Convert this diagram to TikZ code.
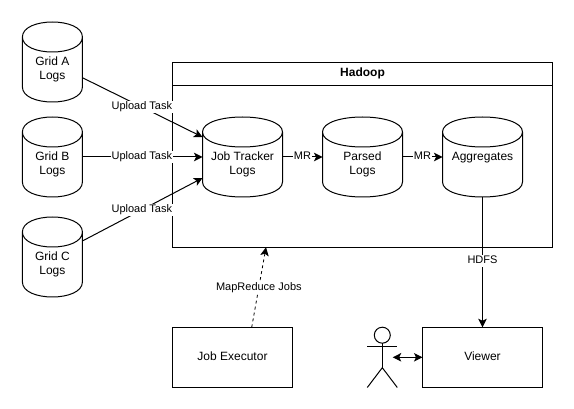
\documentclass[tikz,border=0pt]{standalone}
\usepackage{fontspec}
\setmainfont{Liberation Sans}
\usetikzlibrary{arrows.meta}
\tikzset{
  logdb/.style={rectangle,outer sep=0pt,inner sep=0pt,minimum width=#1pt,minimum height=80pt,
    append after command={
      (\tikzlastnode.north west) ++(0,15) .. controls +(0,-20) and +(0,-20) .. +(#1,0)
        -- ++(#1,50) .. controls +(0,20) and +(0,20) .. ++(-#1,0) -- cycle
      (\tikzlastnode.north west) ++(0,15) .. controls +(0,20) and +(0,20) .. +(#1,0)}},
  dbtext/.style={anchor=north,yshift=5.3pt,inner sep=0pt,align=center,font=\fontsize{12}{14}\selectfont},
  box/.style={draw,rectangle,outer sep=0pt,inner sep=0pt,minimum width=120pt,minimum height=60pt,
    text height=8.6pt,text depth=2.6pt,font=\fontsize{12}{14}\selectfont},
  tag/.style={fill=white,inner sep=1pt,text height=8pt,text depth=2.4pt,font=\fontsize{11}{13}\selectfont},
}
\begin{document}
\begin{tikzpicture}[x=1pt,y=-1pt,line width=1pt,>={Stealth[length=8.5pt,width=8.5pt,inset=2pt]}]
\useasboundingbox (0,0) rectangle (574,409);
% --- the cluster ---
\node[box,minimum width=380pt,minimum height=184.8pt] (hadoop) at (362.5,154.9) {};
\node[box,minimum width=380pt,minimum height=23pt,font=\fontsize{12}{14}\selectfont\bfseries] (hadooptitle) at (362.5,73.8) {Hadoop};
% --- the stores ---
\foreach \n/\y in {gridA/62,gridB/157,gridC/257}
  \draw node[logdb=60] (\n) at (52.4,\y) {};
\foreach \n/\x in {jobtracker/242.5,parsed/362.5,aggregates/482.5}
  \draw node[logdb=80] (\n) at (\x,157) {};
\foreach \n/\t in {gridA/Grid A\\Logs,gridB/Grid B\\Logs,gridC/Grid C\\Logs,
                   jobtracker/Job Tracker\\Logs,parsed/Parsed\\Logs,aggregates/Aggregates}
  \node[dbtext] (\n text) at (\n.center) {\t};
% --- the boxes below ---
\node[box] (executor) at (232.5,357.3) {Job Executor};
\node[box] (viewer) at (482.5,357.3) {Viewer};
% --- free ends ---
\coordinate (outA) at (82.4,77.7);
\coordinate (outC) at (82.4,241);
\coordinate (inA) at (202.5,137);
\coordinate (inC) at (202.5,178);
\coordinate (execout) at (251.7,327.3);
\coordinate (execin) at (266,247.3);
% --- the connectors ---
\draw[->] (outA) -- node[tag,pos=0.495] (uploadA) {Upload Task} (inA);
\draw[->] (gridB.east) -- node[tag,pos=0.495] (uploadB) {Upload Task} (jobtracker.west);
\draw[->] (outC) -- node[tag,pos=0.495] (uploadC) {Upload Task} (inC);
\draw[->] (jobtracker.east) -- node[tag,midway,inner xsep=0.5pt] (mrA) {MR} (parsed.west);
\draw[->] (parsed.east) -- node[tag,midway,inner xsep=0.5pt] (mrB) {MR} (aggregates.west);
\draw[->] (aggregates.south) -- node[tag,pos=0.492] (hdfs) {HDFS} (viewer.north);
\draw[->,dashed,line width=0.8pt] (execout) -- node[tag,midway] (jobs) {MapReduce Jobs} (execin);
% --- the user ---
\node[draw,circle,minimum size=16pt,inner sep=0pt,outer sep=0pt] (head) at (382.3,335.2) {};
\coordinate (hip) at (382.3,367.7);
\coordinate (handL) at (367.3,347);
\coordinate (handR) at (397.3,347);
\coordinate (footL) at (367.3,387.5);
\coordinate (footR) at (397.3,387.5);
\coordinate (userside) at (392.7,357.3);
\draw (head.south) -- (hip);
\draw (handL) -- (handR);
\draw (footL) -- (hip) -- (footR);
\draw[<->] (userside) -- (viewer.west);
\end{tikzpicture}
\end{document}
